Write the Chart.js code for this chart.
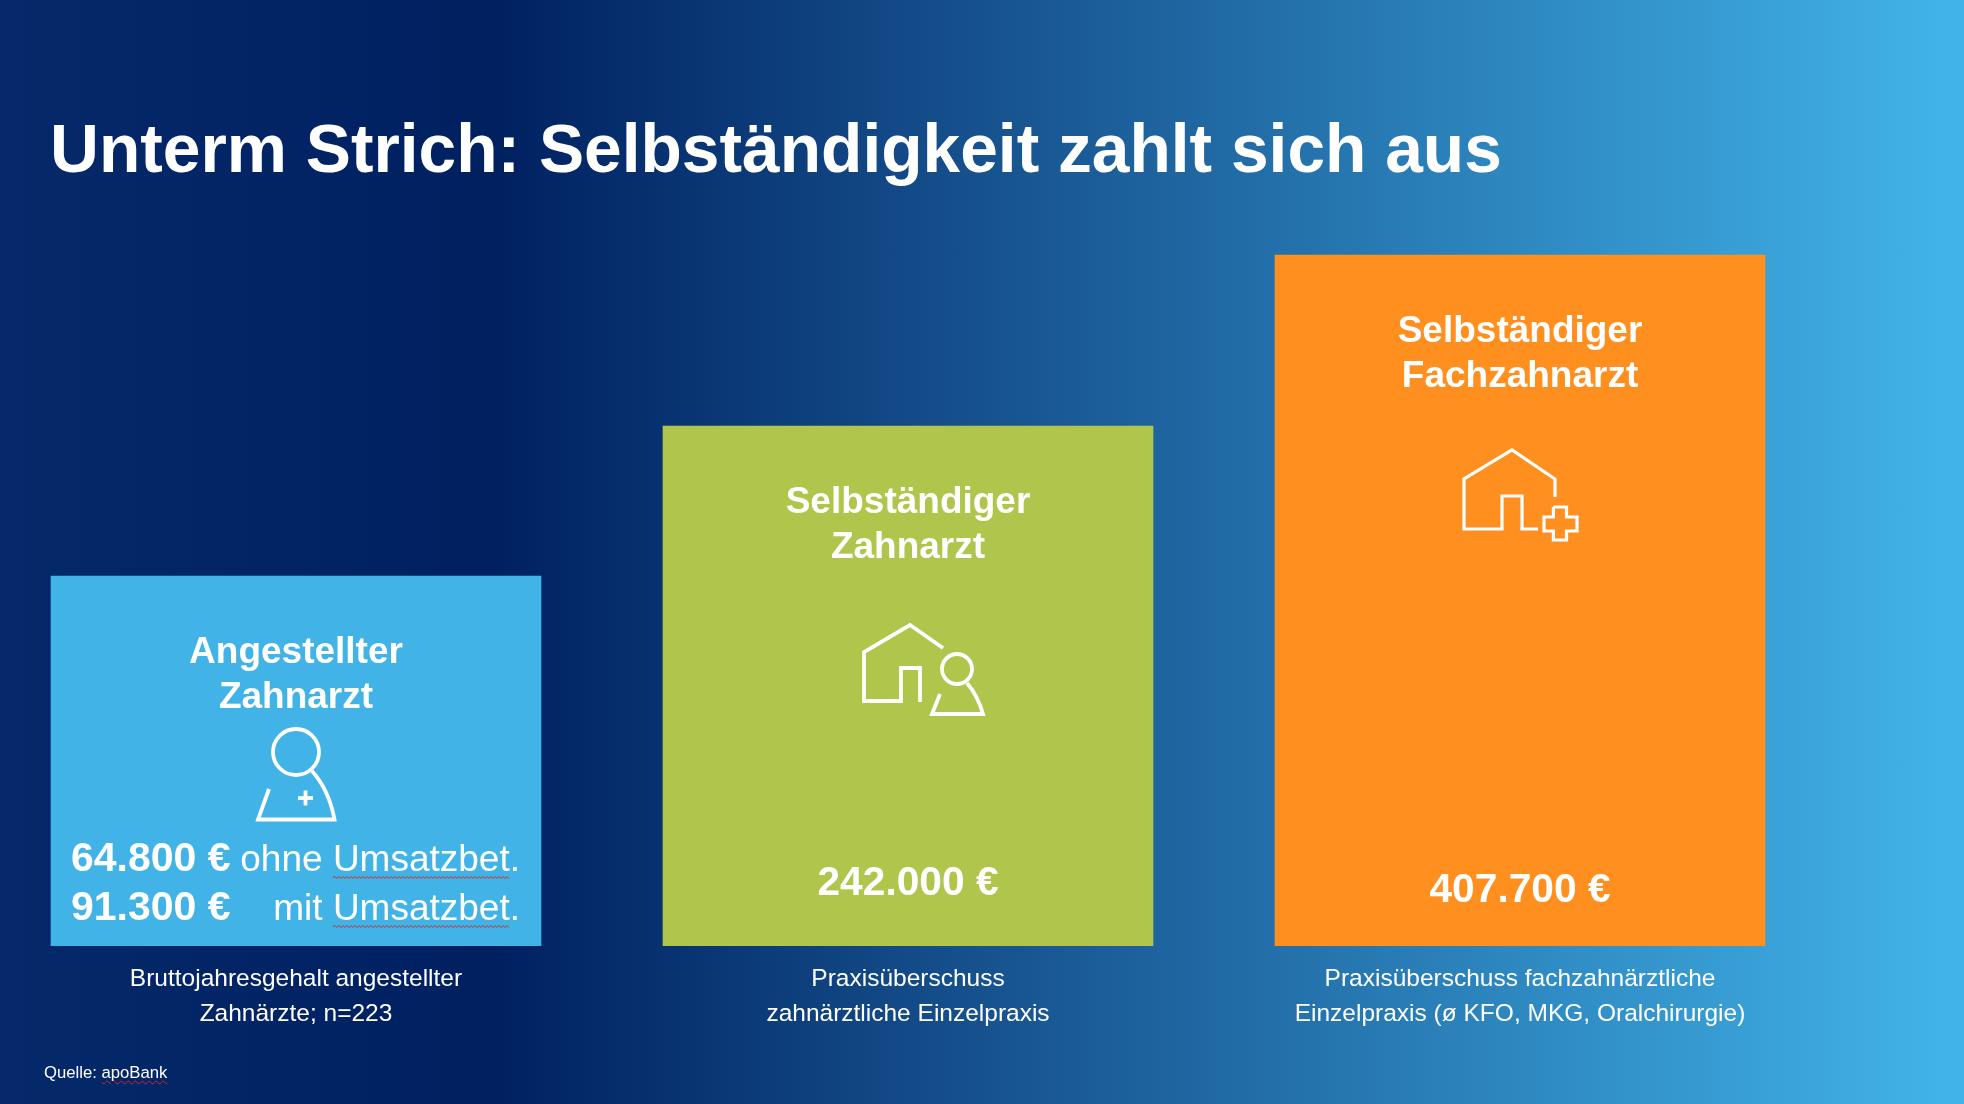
<!DOCTYPE html>
<html lang="de">
<head>
<meta charset="utf-8">
<title>Unterm Strich</title>
<script src="https://cdn.jsdelivr.net/npm/chart.js@4/dist/chart.umd.min.js"></script>
<style>
  html, body { margin: 0; height: 100%; overflow: hidden; }
  body {
    position: relative;
    width: 1964px;
    height: 1104px;
    font-family: "Liberation Sans", Arial, sans-serif;
    color: #fff;
    background: linear-gradient(90deg, #05296a 0%, #002060 25%, #41b3e8 99%);
  }
  h1 {
    position: absolute;
    left: 50px;
    top: 108px;
    margin: 0;
    font-size: 67.7px;
    line-height: 82px;
    font-weight: 700;
    white-space: nowrap;
  }
  .source {
    position: absolute;
    left: 44px;
    top: 1062px;
    font-size: 16.7px;
    line-height: 22px;
  }
  .source span { text-decoration: underline wavy #d8232a 1px; text-underline-offset: 2px; }
  /* category slots are 612px wide, so the first one starts left of the page */
  .wrap { position: absolute; left: -10px; top: 0; width: 1836px; height: 1104px; }
</style>
</head>
<body>
<h1>Unterm Strich: Selbständigkeit zahlt sich aus</h1>
<div class="wrap"><canvas id="chart"></canvas></div>
<div class="source">Quelle: <span>apoBank</span></div>

<script>
const headings = [
  ["Angestellter", "Zahnarzt"],
  ["Selbständiger", "Zahnarzt"],
  ["Selbständiger", "Fachzahnarzt"],
];
const captions = [
  ["Bruttojahresgehalt angestellter", "Zahnärzte; n=223"],
  ["Praxisüberschuss", "zahnärztliche Einzelpraxis"],
  ["Praxisüberschuss fachzahnärztliche", "Einzelpraxis (ø KFO, MKG, Oralchirurgie)"],
];
// the bars in the slide are not to scale with the euro amounts,
// so their heights are read from the picture as a unitless level
const barLevels = [37, 52, 69.1];
const barColors = ["#41b3e6", "#afc54c", "#ff8f1e"];
const employedEuro = [64800, 91300];
const employedNotes = ["ohne", "mit"];
const selfEmployedEuro = [242000, 407700];

const FONT = '"Liberation Sans", Arial, sans-serif';
const euro = (v) => v.toLocaleString("de-DE") + " €";

function polyline(ctx, pts) {
  ctx.beginPath();
  pts.forEach(([x, y], i) => (i ? ctx.lineTo(x, y) : ctx.moveTo(x, y)));
  ctx.stroke();
}

function squiggle(ctx, x0, x1, y) {
  ctx.strokeStyle = "#d8232a";
  ctx.lineWidth = 1;
  ctx.beginPath();
  for (let x = x0, up = false; x <= x1; x += 2, up = !up) {
    if (x === x0) ctx.moveTo(x, y);
    else ctx.lineTo(x, y + (up ? -1 : 1));
  }
  ctx.stroke();
}

// icons are decoration, drawn relative to the top centre of their bar
const icons = [
  (ctx) => {
    ctx.beginPath();
    ctx.arc(0, 176, 23, 0, Math.PI * 2);
    ctx.stroke();
    ctx.beginPath();
    ctx.moveTo(-27, 213);
    ctx.lineTo(-38, 243.5);
    ctx.lineTo(38.5, 243.5);
    ctx.quadraticCurveTo(33, 214, 16, 195);
    ctx.stroke();
    polyline(ctx, [[2, 222], [17, 222]]);
    polyline(ctx, [[9.5, 214.5], [9.5, 229.5]]);
  },
  (ctx) => {
    polyline(ctx, [[35, 222], [2, 199], [-44, 226], [-44, 275], [-7, 275], [-7, 242], [12, 242], [12, 276]]);
    ctx.beginPath();
    ctx.arc(49, 243, 15, 0, Math.PI * 2);
    ctx.stroke();
    ctx.beginPath();
    ctx.moveTo(32, 268);
    ctx.lineTo(24, 288);
    ctx.lineTo(75, 288);
    ctx.quadraticCurveTo(70, 270, 59, 257);
    ctx.stroke();
  },
  (ctx) => {
    polyline(ctx, [[35, 242], [35, 224], [-8, 195], [-56, 224], [-56, 274], [-18, 274], [-18, 241], [2, 241], [2, 274], [18, 274]]);
    polyline(ctx, [[33.4, 252], [46.5, 252], [46.5, 262], [57, 262], [57, 276], [46.5, 276], [46.5, 285], [33.4, 285], [33.4, 276], [24, 276], [24, 262], [33.4, 262], [33.4, 252]]);
  },
];

const barTextPlugin = {
  id: "barText",
  afterDatasetsDraw(chart) {
    const { ctx } = chart;
    chart.getDatasetMeta(0).data.forEach((bar, i) => {
      ctx.save();
      ctx.fillStyle = "#fff";
      ctx.textAlign = "center";
      ctx.textBaseline = "middle";
      ctx.font = "700 37px " + FONT;
      headings[i].forEach((line, n) => ctx.fillText(line, bar.x, bar.y + 76.5 + n * 45));

      ctx.save();
      ctx.translate(bar.x, bar.y);
      ctx.strokeStyle = "#fff";
      ctx.lineWidth = i === 2 ? 3.2 : 3.8;
      ctx.lineJoin = "miter";
      icons[i](ctx);
      ctx.restore();

      const bottom = chart.scales.y.getPixelForValue(0);
      if (i === 0) {
        // employed dentist: two amounts with a note next to each
        employedEuro.forEach((v, n) => {
          const y = bottom - 86.5 + n * 49;
          ctx.textAlign = "left";
          ctx.font = "700 41px " + FONT;
          ctx.fillText(euro(v), bar.x - 225, y);
          ctx.font = "37px " + FONT;
          ctx.textAlign = "right";
          const right = bar.x + 224;
          ctx.fillText(employedNotes[n] + " Umsatzbet.", right, y + 1);
          const dot = ctx.measureText(".").width;
          const word = ctx.measureText("Umsatzbet").width;
          squiggle(ctx, right - dot - word, right - dot, y + 18);
          ctx.fillStyle = "#fff";
        });
      } else {
        ctx.font = "700 40.7px " + FONT;
        ctx.fillText(euro(selfEmployedEuro[i - 1]), bar.x, bottom - (i === 1 ? 62 : 55.5));
      }
      ctx.restore();
    });
  },
};

new Chart(document.getElementById("chart"), {
  type: "bar",
  data: {
    labels: captions,
    datasets: [
      {
        data: barLevels,
        backgroundColor: barColors,
        borderWidth: 0,
        barThickness: 490,
      },
    ],
  },
  options: {
    responsive: true,
    maintainAspectRatio: false,
    animation: false,
    layout: { padding: 0 },
    plugins: { legend: { display: false }, tooltip: { enabled: false } },
    scales: {
      x: {
        grid: { display: false },
        border: { display: false },
        ticks: {
          color: "#fff",
          padding: 8,
          autoSkip: false,
          maxRotation: 0,
          font: { family: FONT, size: 24.5, lineHeight: 1.43 },
        },
        afterFit: (scale) => { scale.height = 158; },
      },
      y: { display: false, min: 0, max: 94.6 },
    },
  },
  plugins: [barTextPlugin],
});
</script>
</body>
</html>
